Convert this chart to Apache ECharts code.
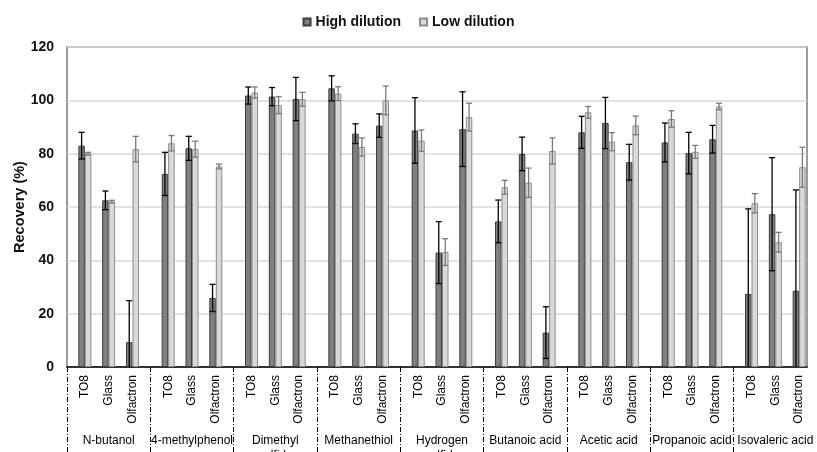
<!DOCTYPE html>
<html>
<head>
<meta charset="utf-8">
<script src="https://cdn.jsdelivr.net/npm/echarts@6/dist/echarts.min.js"></script>
<style>
html,body{margin:0;padding:0;background:#fff;}
#chart{width:817px;height:452px;}
</style>
</head>
<body>
<div id="chart"></div>
<script>
// ---- data ----
const compounds = ['N-butanol', '4-methylphenol', 'Dimethyl\nsulfide', 'Methanethiol', 'Hydrogen\nsulfide', 'Butanoic acid', 'Acetic acid', 'Propanoic acid', 'Isovaleric acid'];
const methods = ['TO8', 'Glass', 'Olfactron'];
const seriesNames = ['High dilution', 'Low dilution'];
// values ordered compound by compound, TO8 / Glass / Olfactron
const highValues = [83, 62.5, 9.3, 72.4, 82, 25.9, 101.8, 101.4, 100.5, 104.5, 87.5, 90.5, 88.7, 42.9, 89.2, 54.6, 79.9, 12.9, 88, 91.5, 76.8, 84.2, 80.2, 85.4, 27.4, 57.3, 28.6];
const highErrors = [5, 3.5, 15.6, 8.1, 4.5, 5.1, 3.2, 3.4, 8.1, 4.7, 3.7, 4.4, 12.3, 11.6, 14, 8, 6.3, 9.7, 6, 9.6, 6.7, 7.3, 7.8, 5.2, 31.9, 21.2, 37.8];
const lowValues = [80, 62, 81.7, 83.9, 81.7, 75.2, 102.9, 98.2, 100.4, 102.5, 82.5, 100, 84.9, 43.1, 93.7, 67.4, 69.1, 81, 95.5, 84.5, 90.6, 93, 80.7, 97.7, 61.4, 46.8, 74.9];
const lowErrors = [0.5, 0.5, 4.8, 2.9, 3, 0.9, 2.1, 3.2, 2.6, 2.6, 3.4, 5.4, 4, 5, 5.2, 2.6, 5.5, 4.9, 2.2, 3.4, 3.5, 3.1, 2.4, 1.2, 3.6, 3.7, 7.5];
const yMin = 0, yMax = 120, yStep = 20;
const yTitle = 'Recovery (%)';

// ---- layout of slots: each compound group has 7 slots, methods sit on slots 1,3,5 ----
const slotsPerGroup = 7;
const methodSlots = [1, 3, 5];
const slotCats = [], highBar = [], lowBar = [], highErr = [], lowErr = [];
compounds.forEach(function (c, g) {
  for (let s = 0; s < slotsPerGroup; s++) {
    const idx = g * slotsPerGroup + s;
    const m = methodSlots.indexOf(s);
    if (m >= 0) {
      const k = g * methods.length + m;
      slotCats.push(methods[m]);
      highBar.push(highValues[k]);
      lowBar.push(lowValues[k]);
      highErr.push([idx, highValues[k], highErrors[k]]);
      lowErr.push([idx, lowValues[k], lowErrors[k]]);
    } else {
      slotCats.push('');
      highBar.push(null);
      lowBar.push(null);
    }
  }
});

const FONT = '"Liberation Sans", Arial, sans-serif';
const BW = 6.5;

function errRenderer(offset, color, width) {
  return function (params, api) {
    const x = api.value(0), v = api.value(1), e = api.value(2);
    const pTop = api.coord([x, v + e]);
    const pBot = api.coord([x, Math.max(yMin, v - e)]);
    const cx = pTop[0] + offset;
    const cap = 3;
    const st = { stroke: color, lineWidth: width };
    const children = [
      { type: 'line', shape: { x1: cx, y1: pTop[1], x2: cx, y2: pBot[1] }, style: st },
      { type: 'line', shape: { x1: cx - cap, y1: pTop[1], x2: cx + cap, y2: pTop[1] }, style: st }
    ];
    if (v - e > yMin) {
      children.push({ type: 'line', shape: { x1: cx - cap, y1: pBot[1], x2: cx + cap, y2: pBot[1] }, style: st });
    }
    return { type: 'group', children: children };
  };
}

const chart = echarts.init(document.getElementById('chart'), null, { renderer: 'canvas' });
chart.setOption({
  animation: false,
  backgroundColor: '#ffffff',
  textStyle: { fontFamily: FONT },
  legend: {
    top: 10,
    left: 'center',
    itemWidth: 7,
    itemHeight: 7,
    itemGap: 18,
    icon: 'rect',
    data: seriesNames,
    textStyle: { fontFamily: FONT, fontSize: 14, fontWeight: 'bold', color: '#111' }
  },
  grid: [
    { left: 67, right: 10, top: 47, bottom: 85, show: true, borderColor: '#7a7a7a', borderWidth: 1.5, backgroundColor: 'transparent', containLabel: false, outerBoundsMode: 'none' },
    { left: 67, right: 0, top: 47, bottom: 85, containLabel: false, outerBoundsMode: 'none' }
  ],
  xAxis: [
    { gridIndex: 0, type: 'category', data: [''], axisLine: { show: true, lineStyle: { color: '#000', width: 1.5 } }, axisTick: { show: false }, axisLabel: { show: false }, splitLine: { show: false } },
    { gridIndex: 1, type: 'category', position: 'bottom', data: slotCats, axisLine: { show: false }, axisTick: { show: false },
      axisLabel: { interval: 0, rotate: 90, margin: 8, fontFamily: FONT, fontSize: 12, color: '#000' } },
    { gridIndex: 1, type: 'category', position: 'bottom', data: compounds, axisLine: { show: false },
      axisTick: { show: true, interval: 0, length: 90, lineStyle: { color: '#000', width: 1, type: [5, 2, 1, 2] } },
      axisLabel: { interval: 0, margin: 66, fontFamily: FONT, fontSize: 12, color: '#000', lineHeight: 15 } }
  ],
  yAxis: [
    { gridIndex: 0, type: 'value', min: yMin, max: yMax, interval: yStep,
      name: yTitle, nameLocation: 'middle', nameGap: 40, nameRotate: 90, nameMoveOverlap: false,
      nameTextStyle: { fontFamily: FONT, fontSize: 14.5, fontWeight: 'bold', color: '#111' },
      axisLine: { show: false }, axisTick: { show: false },
      axisLabel: { margin: 13, fontFamily: FONT, fontSize: 14, fontWeight: 'bold', color: '#111' },
      splitLine: { show: true, lineStyle: { color: '#d9d9d9', width: 1.5 } } },
    { gridIndex: 1, type: 'value', min: yMin, max: yMax, interval: yStep, show: false, splitLine: { show: false } }
  ],
  series: [
    { name: seriesNames[0], type: 'bar', xAxisIndex: 1, yAxisIndex: 1, data: highBar, barWidth: BW, barGap: '0%',
      itemStyle: { color: '#808080', borderColor: '#3c3c3c', borderWidth: 1 } },
    { name: seriesNames[1], type: 'bar', xAxisIndex: 1, yAxisIndex: 1, data: lowBar, barWidth: BW, barGap: '0%',
      itemStyle: { color: '#d9d9d9', borderColor: '#8c8c8c', borderWidth: 1 } },
    { type: 'custom', xAxisIndex: 1, yAxisIndex: 1, data: highErr, encode: { x: 0, y: 1 }, z: 5,
      renderItem: errRenderer(-BW / 2, '#000', 1.3), silent: true },
    { type: 'custom', xAxisIndex: 1, yAxisIndex: 1, data: lowErr, encode: { x: 0, y: 1 }, z: 5,
      renderItem: errRenderer(BW / 2, '#7a7a7a', 1.3), silent: true }
  ]
});
</script>
</body>
</html>
